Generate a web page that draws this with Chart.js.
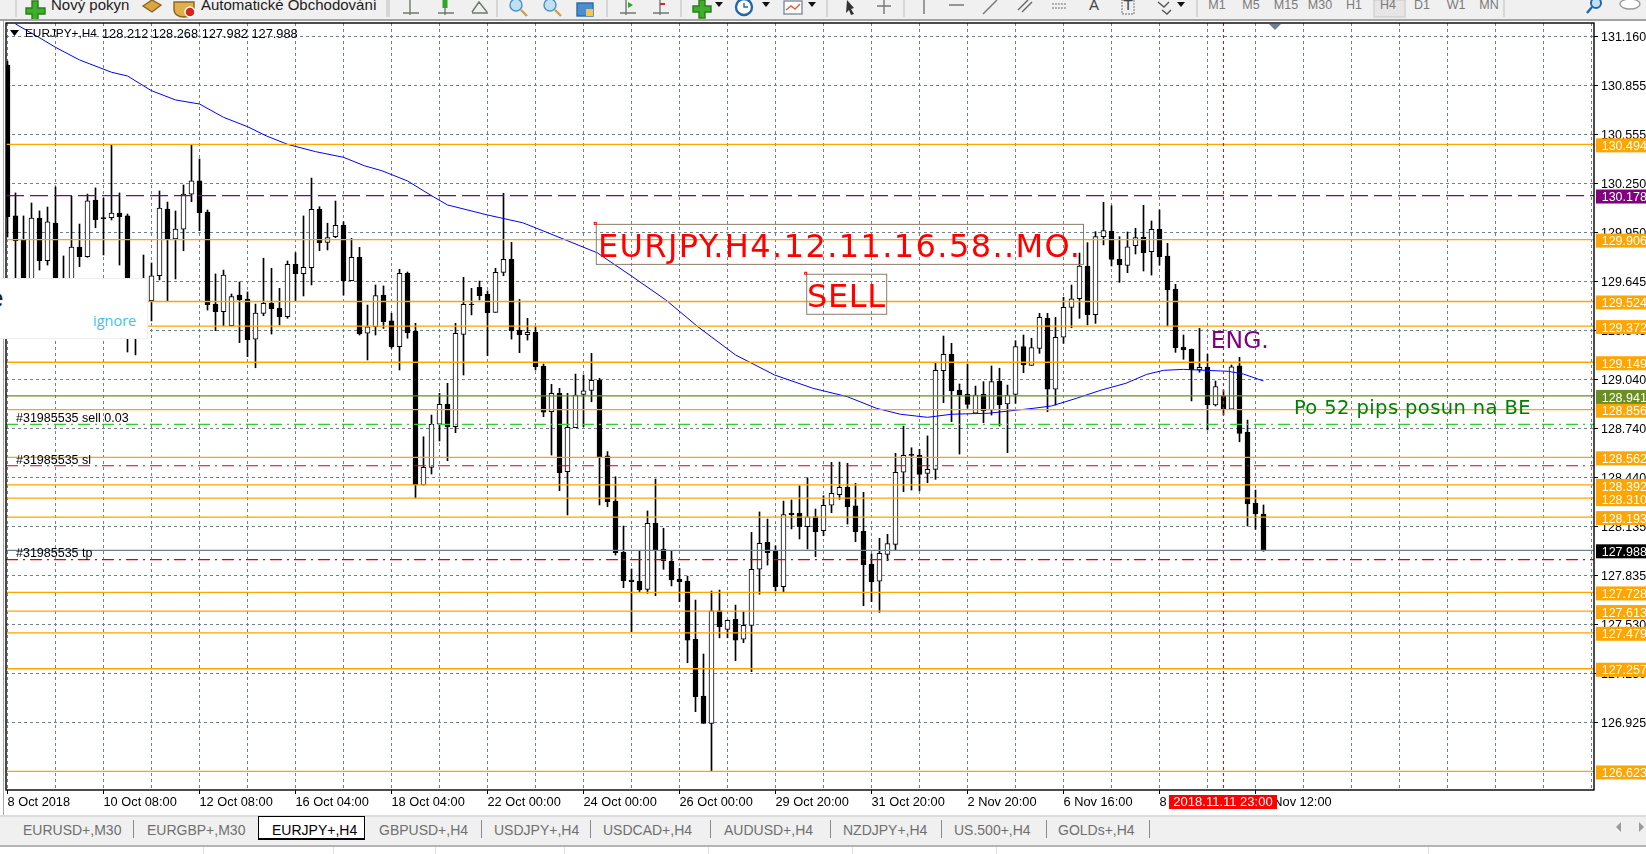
<!DOCTYPE html>
<html>
<head>
<meta charset="utf-8">
<title>EURJPY+,H4</title>
<script src="https://cdn.jsdelivr.net/npm/chart.js@4"></script>
<style>
  html, body { margin: 0; padding: 0; background: #fff; overflow: hidden; }
  body { width: 1646px; height: 854px; position: relative; font-family: "Liberation Sans", sans-serif; }
  canvas { position: absolute; left: 0; top: 0; display: block; }
  #toolbar { position: absolute; left: 0; top: 0; width: 1646px; height: 21px; overflow: hidden; background: #f0f0f0; border-bottom: 2px solid #a3a3a3; box-sizing: border-box; }
  #toolbar span { position: absolute; top: -4px; font-size: 15px; line-height: 18px; color: #1c1c1c; white-space: nowrap; }
  #toolbar span.tf { color: #7b7b7b; font-size: 12.5px; top: -4px; transform: translateX(-50%); }
  #toolbar svg { position: absolute; left: 0; top: 0; }
  #edge { position: absolute; left: 3px; top: 21px; width: 1px; height: 794px; background: #a8a8a8; }
  #popup { position: absolute; left: -2px; top: 278px; width: 150px; height: 61px; background: #fff; border: 1px solid #eee; box-sizing: border-box; overflow: hidden; }
  #popup .cut { position: absolute; left: -10px; top: 4px; font-size: 26px; color: #222; }
  #popup .ign { position: absolute; left: 94px; top: 32px; font: 14.5px "Open Sans", sans-serif; color: #3cc3ee; }
  #tabs { position: absolute; left: 0; top: 815px; width: 1646px; height: 32px; background: #f0f0f0; border-top: 2px solid #dcdcdc; border-bottom: 2px solid #b4b4b4; box-sizing: border-box; }
  #tabs span { position: absolute; top: 4px; font-size: 14px; line-height: 18px; color: #6f6f6f; white-space: nowrap; }
  #tabs i { position: absolute; top: 3px; height: 18px; width: 1px; background: #8a8a8a; }
  #tabs b { position: absolute; left: 258px; top: -1px; width: 107px; height: 24px; box-sizing: border-box; background: #fff; border: 1px solid #000; border-top: 1px solid #000; border-bottom: 2px solid #000; }
  #tabs span.on { color: #000; }
  #tabs em { position: absolute; top: 5px; width: 0; height: 0; border: 5px solid transparent; }
  #status i { position: absolute; top: 847px; height: 7px; width: 1px; background: #e2e2e2; }
</style>
</head>
<body>
<canvas id="chart" width="1646" height="854"></canvas>

<div id="edge"></div>
<div id="toolbar">
  <svg width="1646" height="19" fill="none" stroke-width="1.4">
    <g stroke="#c9c9c9"><path d="M16 0V17M387 0V17M389 0V17M497 0V17M607 0V17M681 0V17M827 0V17M904 0V17M1197 0V17M1504 0V17"/></g>
    <path d="M26 8h6V1h6v7h7v6h-7v6h-6v-6h-6z" fill="#3fae2a" stroke="#2b7d1b"/>
    <path d="M143 6l9-6 9 5-9 7z" fill="#d9a441" stroke="#8a6420"/>
    <path d="M174 2h20v7c0 5-4 8-10 8s-10-3-10-8z" fill="#e0b04a" stroke="#8a6420"/>
    <circle cx="190" cy="12" r="5" fill="#d8261c" stroke="#fff"/>
    <g stroke="#6b7c6b"><path d="M403 13h16M410 0v15M438 13h16M445 0v15M472 13h16M472 12l7-10 8 10"/></g>
    <path d="M445 0v8" stroke="#2fa52a" stroke-width="5"/>
    <circle cx="516" cy="5" r="6" fill="#bfe0f4" stroke="#4f8fc0"/><path d="M521 10l6 6" stroke="#c9a24a" stroke-width="2.4"/>
    <circle cx="550" cy="5" r="6" fill="#bfe0f4" stroke="#4f8fc0"/><path d="M555 10l6 6" stroke="#c9a24a" stroke-width="2.4"/>
    <rect x="577" y="3" width="16" height="13" fill="#4b8ed0" stroke="#2d6aa6"/><rect x="586" y="9" width="7" height="7" fill="#f0c94a"/>
    <g stroke="#6b7c6b"><path d="M620 13h16M626 0v15M653 13h16M660 0v15"/></g>
    <path d="M628 2l5 3-5 3z" fill="#2fa52a"/><path d="M660 4h5" stroke="#d8261c" stroke-width="2"/>
    <path d="M693 6h6V0h6v6h6v6h-6v6h-6v-6h-6z" fill="#3fae2a" stroke="#2b7d1b"/>
    <path d="M715 2h8l-4 5z" fill="#111"/>
    <circle cx="744" cy="7" r="8" fill="#fff" stroke="#2467a8" stroke-width="2.4"/><path d="M744 3v4h4" stroke="#2467a8"/>
    <path d="M762 2h8l-4 5z" fill="#111"/>
    <rect x="784" y="1" width="18" height="13" fill="#fff" stroke="#7d8f9d"/><path d="M786 10l5-4 4 3 5-5" stroke="#d8603c"/>
    <path d="M808 2h8l-4 5z" fill="#111"/>
    <path d="M847 0l7 8-3 1 3 5-3 1-2-5-3 3z" fill="#333"/>
    <path d="M884 0v14M877 6h14" stroke="#777"/>
    <path d="M924 0v14M949 5h15" stroke="#777"/><path d="M983 14l14-14" stroke="#777"/>
    <path d="M1018 10l10-10M1022 12l10-10" stroke="#666"/><path d="M1052 4h15M1052 8h15" stroke="#999" stroke-dasharray="2 1"/>
    <rect x="1122" y="0" width="12" height="14" stroke="#999" stroke-dasharray="2 1"/>
    <path d="M1158 2l6 5 5-5M1162 10l5 4 4-4" stroke="#555"/><path d="M1177 2h8l-4 5z" fill="#111"/>
    <circle cx="1596" cy="3" r="5" fill="#bfe0f4" stroke="#2467a8" stroke-width="2"/><path d="M1592 7l-5 6" stroke="#2467a8" stroke-width="2.4"/>
    <ellipse cx="1630" cy="4" rx="10" ry="5" fill="#fff" stroke="#999"/>
    <rect x="1374" y="0" width="31" height="17" fill="#e6e6e6" stroke="#d0d0d0"/>
  </svg>
  <span style="left:51px">Nový pokyn</span>
  <span style="left:201px">Automatické Obchodování</span>
  <span style="left:1094px;transform:translateX(-50%);color:#444">A</span>
  <span style="left:1128px;transform:translateX(-50%);color:#444">T</span>
  <span class="tf" style="left:1217px">M1</span>
  <span class="tf" style="left:1251px">M5</span>
  <span class="tf" style="left:1286px">M15</span>
  <span class="tf" style="left:1320px">M30</span>
  <span class="tf" style="left:1354px">H1</span>
  <span class="tf" style="left:1388px">H4</span>
  <span class="tf" style="left:1422px">D1</span>
  <span class="tf" style="left:1456px">W1</span>
  <span class="tf" style="left:1489px">MN</span>
</div>

<div id="popup"><div class="cut">e</div><div class="ign">ignore</div></div>

<div id="tabs">
  <b></b>
  <span style="left:23px">EURUSD+,M30</span><i style="left:133px"></i>
  <span style="left:147px">EURGBP+,M30</span>
  <span class="on" style="left:272px">EURJPY+,H4</span>
  <span style="left:379px">GBPUSD+,H4</span><i style="left:481px"></i>
  <span style="left:494px">USDJPY+,H4</span><i style="left:590px"></i>
  <span style="left:603px">USDCAD+,H4</span><i style="left:710px"></i>
  <span style="left:724px">AUDUSD+,H4</span><i style="left:830px"></i>
  <span style="left:843px">NZDJPY+,H4</span><i style="left:941px"></i>
  <span style="left:954px">US.500+,H4</span><i style="left:1046px"></i>
  <span style="left:1058px">GOLDs+,H4</span><i style="left:1149px"></i>
  <em style="left:1611px;border-right-color:#9a9a9a"></em>
  <em style="left:1639px;border-left-color:#9a9a9a"></em>
</div>
<div id="status">
  <i style="left:203px"></i><i style="left:333px"></i><i style="left:435px"></i><i style="left:564px"></i>
  <i style="left:708px"></i><i style="left:852px"></i><i style="left:996px"></i><i style="left:1428px"></i>
</div>

<script>
// candles
const opens = [130.984,130.052,129.904,129.626,130.039,129.776,130.008,129.533,129.595,129.860,129.800,130.150,130.042,130.041,130.070,130.052,129.379,129.441,129.529,129.683,130.095,129.910,129.971,130.187,130.268,130.076,129.508,129.461,129.375,129.564,129.539,129.292,129.451,129.513,129.482,129.430,129.754,129.696,129.733,130.093,129.889,129.924,129.994,129.652,129.797,129.328,129.368,129.564,129.404,129.245,129.698,129.340,128.391,128.500,128.766,128.889,128.751,129.321,129.508,129.612,129.568,129.457,129.704,129.784,129.348,129.319,129.334,129.126,128.844,128.957,128.473,128.745,128.951,128.975,129.037,128.572,128.292,127.976,127.805,127.798,127.747,128.155,127.994,127.920,127.809,127.798,127.439,127.089,126.920,127.615,127.500,127.562,127.439,127.525,127.871,128.037,127.984,127.763,128.217,128.217,128.134,128.195,128.109,128.266,128.331,128.377,128.262,128.105,127.902,127.797,127.963,128.025,128.470,128.581,128.574,128.463,128.488,129.097,129.198,128.977,128.951,128.834,128.951,128.854,129.031,128.891,128.951,129.245,129.130,129.235,129.420,128.982,129.303,129.488,129.541,129.743,129.443,129.924,129.957,129.784,129.747,129.868,129.920,129.831,129.969,129.805,129.601,129.241,129.229,129.101,129.118,128.885,128.941,128.860,129.127,128.716,128.278,128.212];
const highs = [131.008,130.194,130.052,130.132,130.083,130.107,130.231,129.805,130.175,130.002,130.187,130.225,130.163,130.490,130.194,130.064,129.471,129.811,129.762,130.206,130.138,130.083,130.243,130.490,130.404,130.089,129.694,129.718,129.570,129.644,129.583,129.508,129.791,129.729,129.605,129.774,129.825,130.052,130.286,130.109,130.007,130.144,130.016,129.914,129.858,129.502,129.626,129.620,129.451,129.723,129.706,129.389,128.689,128.823,128.957,129.019,129.389,129.673,129.605,129.650,129.589,129.729,130.192,129.889,129.537,129.420,129.368,129.138,129.013,128.988,128.957,129.076,129.070,129.204,129.050,128.597,128.442,128.138,127.873,127.984,128.231,128.428,128.124,127.984,127.877,127.829,127.681,127.348,127.737,127.743,127.558,127.650,127.609,128.099,128.225,128.181,128.016,128.292,128.299,128.387,128.436,128.243,128.325,128.531,128.533,128.525,128.402,128.346,127.965,128.062,128.087,128.587,128.755,128.621,128.611,128.694,129.142,129.311,129.266,129.015,129.138,129.002,129.029,129.126,129.112,129.008,129.282,129.317,129.297,129.451,129.451,129.426,129.550,129.626,129.823,129.887,129.955,130.136,130.115,129.924,129.953,129.976,130.118,130.021,130.089,129.883,129.630,129.317,129.231,129.358,129.198,129.033,128.977,129.132,129.179,128.792,128.360,128.268];
const lows = [129.922,129.657,129.595,129.595,129.718,129.749,129.595,129.502,129.533,129.739,129.797,129.979,129.811,130.027,129.749,129.212,129.194,129.410,129.404,129.657,129.529,129.663,129.837,130.140,129.961,129.471,129.344,129.373,129.373,129.270,129.183,129.115,129.436,129.323,129.379,129.420,129.529,129.558,129.626,129.837,129.842,129.918,129.564,129.652,129.317,129.163,129.317,129.358,129.235,129.101,129.297,128.311,128.391,128.459,128.663,128.541,128.714,129.070,129.441,129.533,129.189,129.457,129.683,129.292,129.208,129.286,129.101,128.813,128.576,128.356,128.206,128.745,128.751,128.905,128.268,128.257,127.959,127.757,127.486,127.729,127.723,127.708,127.871,127.768,127.671,127.294,126.992,126.920,126.626,127.448,127.448,127.307,127.418,127.239,127.717,127.897,127.737,127.733,128.120,128.058,127.996,127.949,128.078,128.220,128.303,128.150,128.041,127.646,127.671,127.605,127.924,127.990,128.350,128.360,128.356,128.405,128.426,128.899,128.782,128.582,128.865,128.834,128.776,128.823,128.755,128.591,128.895,129.084,129.130,129.204,128.844,128.885,129.266,129.362,129.420,129.379,129.389,129.873,129.743,129.642,129.702,129.817,129.712,129.687,129.749,129.373,129.210,129.167,128.910,129.087,128.731,128.879,128.823,128.860,128.658,128.138,128.118,127.982];
const closes = [130.047,129.899,129.626,130.039,129.776,130.015,129.626,129.626,129.860,129.800,130.146,130.029,130.033,130.070,130.047,129.410,129.317,129.626,129.683,130.101,129.910,129.971,130.187,130.268,130.072,129.504,129.461,129.687,129.554,129.533,129.288,129.453,129.513,129.479,129.430,129.754,129.696,129.735,130.093,129.887,129.918,129.994,129.652,129.797,129.323,129.368,129.560,129.399,129.245,129.698,129.331,128.391,128.500,128.766,128.889,128.751,129.328,129.506,129.504,129.560,129.455,129.704,129.784,129.344,129.319,129.334,129.121,128.840,128.957,128.467,128.747,128.947,128.973,129.037,128.566,128.288,127.973,127.800,127.794,127.743,128.155,127.990,127.924,127.805,127.794,127.434,127.084,126.920,127.615,127.516,127.556,127.434,127.525,127.871,128.031,127.973,127.763,128.208,128.208,128.134,128.195,128.103,128.266,128.340,128.377,128.257,128.103,127.899,127.794,127.970,128.029,128.470,128.574,128.574,128.457,128.488,129.099,129.198,128.973,128.947,128.889,128.947,128.850,129.029,128.885,128.947,129.245,129.132,129.239,129.426,128.982,129.303,129.488,129.541,129.743,129.443,129.924,129.961,129.784,129.749,129.862,129.918,129.825,129.969,129.800,129.595,129.239,129.225,129.101,129.118,128.885,128.998,128.860,129.121,128.710,128.274,128.212,127.988];

// moving average, sampled along the blue line (bar number, price)
const maBars = [1,3.9,6,9,13,15,18,21,24,27,30,32.4,35,38.5,42,44.6,46.8,50,53,55,60,64.4,67.4,73.7,78,82.3,86.3,91,95.9,100.7,105,108.6,111.6,115,118,122.6,128.3,130.5,133.6,136.7,139.8,142.4,144.5,147,149.8,152.6,154.5,157];
const maValues = [131.237,131.155,131.093,131.015,130.939,130.916,130.825,130.768,130.743,130.661,130.603,130.545,130.494,130.449,130.414,130.362,130.331,130.268,130.177,130.120,130.058,130.010,129.951,129.825,129.681,129.533,129.368,129.194,129.070,128.988,128.936,128.865,128.828,128.809,128.828,128.834,128.865,128.879,128.926,128.977,129.019,129.074,129.099,129.105,129.099,129.093,129.076,129.033];

// levels
const orangeLevels = [130.494,129.906,129.524,129.372,129.149,128.856,128.562,128.392,128.310,128.193,127.728,127.613,127.479,127.257,126.623];
const purpleLevel = 130.178;
const olivePrice = 128.941;
const lastPrice = 127.988;
const entryLevel = 128.766;
const stopLevel = 128.510;
const targetLevel = 127.930;

// axes
const priceTicks = [131.160,130.855,130.555,130.250,129.950,129.645,129.345,129.040,128.740,128.440,128.135,127.835,127.530,127.230,126.925];
const gridBars = [0,6,12,18,24,30,36,42,48,54,60,66,72,78,84,90,96,102,108,114,120,126,132,138,144,150,156,162,168,174,180,186,192,198];
const timeLabels = {0:'8 Oct 2018',12:'10 Oct 08:00',24:'12 Oct 08:00',36:'16 Oct 04:00',48:'18 Oct 04:00',60:'22 Oct 00:00',72:'24 Oct 00:00',84:'26 Oct 00:00',96:'29 Oct 20:00',108:'31 Oct 20:00',120:'2 Nov 20:00',132:'6 Nov 16:00',144:'8 Nov 16:00',156:'12 Nov 12:00'};
const crossBar = 152;
const crossLabel = '2018.11.11 23:00';

const MONO = '"Liberation Sans", sans-serif';
const VERD = '"DejaVu Sans", sans-serif';
const xMin = -0.1875, xMax = 198.3125;

function level(value, color, width, dash) {
    return {
        type: 'line', order: 1, data: [{x: xMin, y: value}, {x: xMax, y: value}],
        borderColor: color, borderWidth: width, borderDash: dash || [], pointRadius: 0
    };
}

const overlay = {
    id: 'overlay',
    afterDraw(chart) {
        const {ctx, chartArea: a, scales: {x, y}} = chart;

        // crosshair period line
        ctx.save();
        ctx.strokeStyle = '#ff0000';
        ctx.setLineDash([3, 3]);
        ctx.lineWidth = 1;
        ctx.beginPath();
        ctx.moveTo(x.getPixelForValue(crossBar), a.top);
        ctx.lineTo(x.getPixelForValue(crossBar), a.bottom);
        ctx.stroke();
        ctx.restore();

        // frame
        ctx.strokeStyle = '#000';
        ctx.lineWidth = 1.4;
        ctx.strokeRect(a.left, a.top, a.right - a.left, a.bottom - a.top);

        // chart objects
        const box = (x0, x1, top, bot) => {
            ctx.strokeStyle = '#8b7d6b';
            ctx.lineWidth = 1;
            ctx.strokeRect(x.getPixelForValue(x0), y.getPixelForValue(top), x.getPixelForValue(x1) - x.getPixelForValue(x0), y.getPixelForValue(bot) - y.getPixelForValue(top));
            ctx.strokeStyle = '#ff0000';
            ctx.strokeRect(x.getPixelForValue(x0) - 2, y.getPixelForValue(top) - 2, 2, 2);
        };
        box(73.6, 134.5, 130.000, 129.753);
        box(99.9, 109.9, 129.692, 129.445);

        const label = (text, bar, price, font, color, base, spacing) => {
            ctx.font = font;
            ctx.fillStyle = color;
            ctx.textAlign = 'left';
            ctx.textBaseline = base || 'alphabetic';
            ctx.letterSpacing = spacing || '0px';
            ctx.fillText(text, x.getPixelForValue(bar), y.getPixelForValue(price));
            ctx.letterSpacing = '0px';
        };
        label('EURJPY.H4.12.11.16.58..MO.', 73.8, 129.800, '32px ' + VERD, '#ff0000', null, '1.4px');
        label('SELL', 99.95, 129.492, '32px ' + VERD, '#ff0000', null, '0.6px');
        label('ENG.', 150.4, 129.237, '23.5px ' + VERD, '#800080');
        label('Po 52 pips posun na BE', 160.8, 128.829, '19.5px ' + VERD, '#008000', null, '0.4px');
        label('#31985535 sell 0.03', 1.06, 128.802, '12.5px ' + MONO, '#000', 'middle');
        label('#31985535 sl', 1.06, 128.545, '12.5px ' + MONO, '#000', 'middle');
        label('#31985535 tp', 1.06, 127.965, '12.5px ' + MONO, '#000', 'middle');

        // top-left caption
        ctx.fillStyle = '#000';
        ctx.beginPath();
        ctx.moveTo(10, 30); ctx.lineTo(19, 30); ctx.lineTo(14.5, 36); ctx.closePath();
        ctx.fill();
        ctx.textBaseline = 'middle';
        ctx.font = '11.8px ' + MONO;
        ctx.fillText('EURJPY+,H4', 25, 34);
        ctx.font = '12.8px ' + MONO;
        ctx.fillText('128.212 128.268 127.982 127.988', 102, 34);

        // shift marker
        ctx.fillStyle = '#708090';
        ctx.beginPath();
        ctx.moveTo(1269, 24); ctx.lineTo(1281, 24); ctx.lineTo(1275, 30); ctx.closePath();
        ctx.fill();

        // price tags on the right axis
        const tag = (value, bg) => {
            const py = y.getPixelForValue(value);
            ctx.fillStyle = bg;
            ctx.fillRect(a.right + 2, py - 6, 60, 14);
            ctx.fillStyle = '#fff';
            ctx.font = '12.5px ' + MONO;
            ctx.textBaseline = 'middle';
            ctx.textAlign = 'left';
            ctx.fillText(value.toFixed(3), 1601.7, py + 2.2);
        };
        orangeLevels.forEach(v => tag(v, '#ffa500'));
        tag(purpleLevel, '#800080');
        tag(olivePrice, '#6b8e23');
        tag(lastPrice, '#000');

        // crosshair date tag
        ctx.fillStyle = '#ff0000';
        ctx.fillRect(1169, 795, 108, 14);
        ctx.fillStyle = '#fff';
        ctx.font = '13px ' + MONO;
        ctx.textAlign = 'center';
        ctx.textBaseline = 'middle';
        ctx.fillText(crossLabel, 1223, 802);
    }
};

new Chart(document.getElementById('chart'), {
    data: {
        datasets: [
            // lines first in the list, lowest order is painted last
            ...orangeLevels.map(v => level(v, '#ffa500', 1.3)),
            level(purpleLevel, '#800080', 1.3, [18, 6]),
            level(olivePrice, '#6b8e23', 1.3),
            level(lastPrice, '#708090', 1.2),
            level(entryLevel, '#32cd32', 1.2, [12, 5, 2, 5]),
            level(stopLevel, '#e00000', 1.2, [12, 5, 2, 5]),
            level(targetLevel, '#e00000', 1.2, [12, 5, 2, 5]),
            {
                type: 'line', order: 2,
                data: maBars.map((b, i) => ({x: b, y: maValues[i]})),
                borderColor: '#0000ff', borderWidth: 1, pointRadius: 0
            },
            {
                // bodies
                type: 'bar', order: 3, grouped: false, barThickness: 5,
                data: opens.map((o, i) => ({x: i, y: [o, closes[i]]})),
                backgroundColor: c => closes[c.dataIndex] >= opens[c.dataIndex] ? '#fff' : '#000',
                borderColor: '#000', borderWidth: 1, borderSkipped: false
            },
            {
                // wicks
                type: 'bar', order: 4, grouped: false, barThickness: 1,
                data: highs.map((h, i) => ({x: i, y: [lows[i], h]})),
                backgroundColor: '#000', borderWidth: 0
            }
        ]
    },
    options: {
        responsive: false,
        animation: false,
        devicePixelRatio: 1,
        events: [],
        layout: {padding: {left: 6, top: 23, right: 0, bottom: 0}},
        plugins: {legend: {display: false}, tooltip: {enabled: false}},
        scales: {
            x: {
                type: 'linear', min: xMin, max: xMax, offset: false,
                afterBuildTicks: s => { s.ticks = gridBars.map(v => ({value: v})); },
                afterFit: s => { s.height = 64; },
                border: {display: false, dash: [3, 3]},
                grid: {
                    offset: false, color: '#708090', lineWidth: 1, tickLength: 4,
                    tickColor: c => (c.tick && timeLabels[c.tick.value]) ? '#000' : 'rgba(0,0,0,0)'
                },
                ticks: {
                    autoSkip: false, maxRotation: 0, minRotation: 0, align: 'start', padding: 1, color: '#000',
                    font: {family: MONO, size: 12.8},
                    callback: v => timeLabels[v] || ''
                }
            },
            y: {
                type: 'linear', position: 'right', min: 126.5085, max: 131.243,
                afterBuildTicks: s => { s.ticks = priceTicks.map(v => ({value: v})); },
                afterFit: s => { s.width = 52; },
                border: {display: false, dash: [3, 3]},
                grid: {color: '#708090', lineWidth: 1, tickLength: 4, tickColor: '#000'},
                ticks: {
                    autoSkip: false, padding: 3, labelOffset: 1, color: '#000', crossAlign: 'near',
                    font: {family: MONO, size: 12.5},
                    callback: v => v.toFixed(3)
                }
            }
        }
    },
    plugins: [overlay]
});
</script>
</body>
</html>
